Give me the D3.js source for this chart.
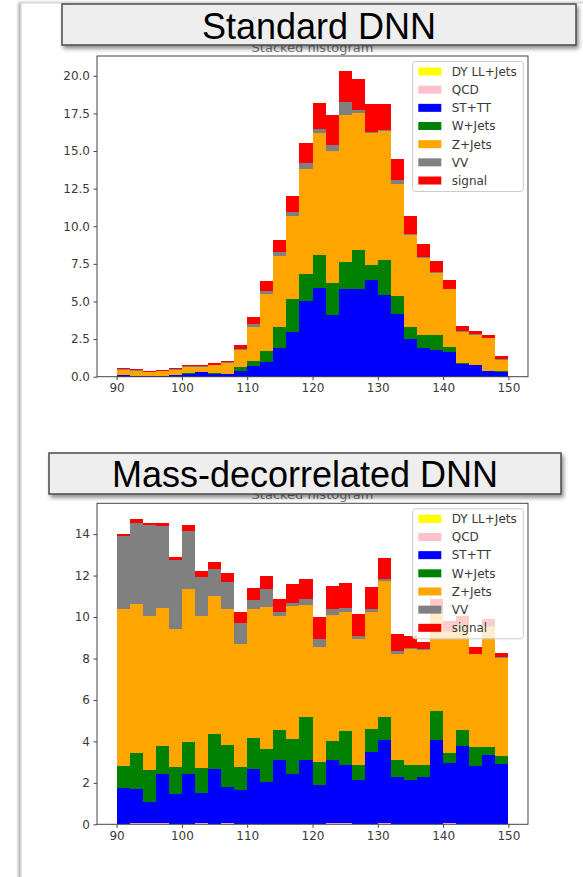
<!DOCTYPE html>
<html><head><meta charset="utf-8">
<script src="https://cdn.jsdelivr.net/npm/d3@7"></script>
<style>body{margin:0;background:#fff}svg{display:block}</style>
</head><body>
<svg id="c" width="583" height="877"></svg>
<script>
// ---------------- data ----------------
const binEdges = [90,92,94,96,98,100,102,104,106,108,110,112,114,116,118,120,122,124,126,128,130,132,134,136,138,140,142,144,146,148,150];
const seriesNames = ["DY LL+Jets","QCD","ST+TT","W+Jets","Z+Jets","VV","signal"];
const seriesColors = ["#ffff00","#ffc0cb","#0000ff","#008000","#ffa500","#808080","#ff0000"];
const xTicks = [90,100,110,120,130,140,150];
const topYTicks = [0,2.5,5,7.5,10,12.5,15,17.5,20];
const bottomYTicks = [0,2,4,6,8,10,12,14];
const panelTitles = ["Standard DNN","Mass-decorrelated DNN"];
const axesTitle = "Stacked histogram";

// Standard DNN
const topDY     = [0,0,0,0,0,0,0,0,0,0,0,0,0,0,0,0,0,0,0,0,0,0,0,0,0,0,0,0,0,0];
const topQCD    = [0,0,0,0,0,0,0,0,0,0,0,0,0,0,0,0,0,0,0,0,0,0,0,0,0,0,0,0,0,0];
const topSTTT   = [0.1,0.05,0.05,0.05,0.1,0.2,0.3,0.2,0.15,0.35,0.7,0.95,1.9,3.0,5.05,5.9,4.1,5.85,5.8,6.45,5.4,4.2,2.5,1.9,1.8,1.65,0.85,0.75,0.35,0.3];
const topWJets  = [0.02,0.02,0.02,0.02,0.02,0.02,0.02,0.02,0.02,0.27,0.36,0.78,1.4,2.15,1.8,2.17,2.1,1.75,2.6,0.95,2.35,1.15,0.8,0.85,0.95,0.35,0.05,0.05,0.05,0.05];
const topZJets  = [0.33,0.33,0.23,0.31,0.33,0.43,0.33,0.53,0.73,1.13,2.24,3.77,4.7,5.55,6.95,8.13,8.8,9.8,9.1,8.8,8.55,7.45,6.15,5.15,4.15,3.8,2.1,2.0,2.15,0.75];
const topVV     = [0.05,0.03,0.03,0.02,0.05,0.05,0.05,0.05,0.05,0.1,0.2,0.2,0.3,0.25,0.4,0.25,0.4,0.85,0.2,0.05,0.1,0.25,0.05,0.05,0.05,0.05,0.05,0.05,0.05,0.05];
const topSignal = [0.1,0.07,0.07,0.05,0.08,0.08,0.08,0.08,0.1,0.25,0.48,0.65,0.8,1.05,1.3,1.75,2.0,2.05,2.1,1.85,1.7,1.45,1.2,0.9,0.75,0.55,0.35,0.2,0.15,0.2];

// Mass-decorrelated DNN
const botDY     = [0,0,0,0,0,0,0,0,0,0,0,0,0,0,0,0,0,0,0,0,0,0,0,0,0,0,0,0,0,0];
const botQCD    = [0,0.08,0.08,0.08,0,0,0.05,0,0.08,0,0,0,0,0,0,0,0.06,0.04,0,0,0.04,0,0,0,0,0.05,0,0,0,0];
const botSTTT   = [1.76,1.62,0.98,2.37,1.44,2.42,1.47,2.66,1.73,1.65,2.66,2.05,3.09,2.42,3.12,1.89,3.06,2.81,2.13,3.49,4.04,2.29,2.13,2.29,4.05,2.91,3.8,2.8,3.36,2.93];
const botWJets  = [1.04,1.74,1.54,1.33,1.33,1.55,1.2,1.71,2.0,1.12,1.5,1.6,1.48,1.68,2.08,1.12,0.9,1.64,0.72,1.09,1.12,0.83,0.72,0.56,1.44,0.48,0.77,0.93,0.37,0.35];
const botZJets  = [7.6,7.21,7.46,6.68,6.65,7.37,7.34,6.65,6.57,5.93,6.22,6.85,5.49,6.44,5.4,5.56,6.08,5.73,6.09,5.64,6.54,5.1,5.61,5.57,4.71,5.86,4.93,4.47,5.77,4.75];
const botVV     = [3.5,3.9,4.39,3.94,3.31,2.8,1.87,1.28,1.33,0.99,0.43,0.84,0.16,0.16,0.26,0.37,0.28,0.24,0.13,0.16,0.08,0.16,0.04,0.04,0.1,0.05,0.1,0.04,0.05,0.06];
const botSignal = [0.1,0.2,0.1,0.15,0.17,0.29,0.29,0.37,0.43,0.53,0.58,0.64,0.64,0.88,0.99,1.04,1.12,1.17,1.1,1.09,1.01,0.8,0.57,0.35,0.55,0.45,0.45,0.3,0.35,0.16];

// ---------------- drawing ----------------
const svg = d3.select("#c");
const defs = svg.append("defs");
const sh = defs.append("filter").attr("id","boxShadow").attr("x","-5%").attr("y","-30%").attr("width","110%").attr("height","170%");
sh.append("feDropShadow").attr("dx",2).attr("dy",3).attr("stdDeviation",2).attr("flood-color","#000").attr("flood-opacity",0.45);
const fs = defs.append("filter").attr("id","frameShadow").attr("x","-5%").attr("y","-5%").attr("width","110%").attr("height","110%");
fs.append("feDropShadow").attr("dx",-2).attr("dy",0).attr("stdDeviation",1.5).attr("flood-color","#000").attr("flood-opacity",0.35);

// slide frame
svg.append("rect").attr("x",21).attr("y",3).attr("width",700).attr("height",1000)
  .attr("fill","#fff").attr("stroke","#cfcfcf").attr("stroke-width",1).attr("filter","url(#frameShadow)");

const FONT = "'DejaVu Sans', sans-serif";

function drawPanel(cfg) {
  const {left, right, top, bottom, series, yTicks, fmt} = cfg;
  const g = svg.append("g");
  const x = d3.scaleLinear().domain([87,153]).range([left,right]);
  const rows = binEdges.slice(0,-1).map((e,i) => {
    const o = {x0: e, x1: binEdges[i+1]};
    seriesNames.forEach((n,k) => o[n] = series[k][i]);
    return o;
  });
  const stacked = d3.stack().keys(seriesNames)(rows);
  const ymax = d3.max(rows, r => d3.sum(seriesNames, n => r[n])) * 1.05;
  const y = d3.scaleLinear().domain([0, ymax]).range([bottom, top]);

  // matplotlib title, mostly hidden behind the slide box
  g.append("text").attr("x",(left+right)/2).attr("y",top-4).attr("text-anchor","middle")
    .attr("font-family",FONT).attr("font-size",13).attr("fill","#777").text(axesTitle);

  const bars = g.append("g").attr("shape-rendering","crispEdges");
  stacked.forEach((layer,k) => {
    bars.append("g").attr("fill", seriesColors[k])
      .selectAll("rect").data(layer.filter(d => d[1]-d[0] > 0)).join("rect")
      .attr("x", d => x(d.data.x0))
      .attr("width", d => x(d.data.x1) - x(d.data.x0))
      .attr("y", d => y(d[1]))
      .attr("height", d => y(d[0]) - y(d[1]));
  });

  // axes
  const ax = g.append("g").attr("transform",`translate(0,${bottom})`)
    .call(d3.axisBottom(x).tickValues(xTicks).tickSize(3.5).tickPadding(3.5).tickSizeOuter(0));
  const ay = g.append("g").attr("transform",`translate(${left},0)`)
    .call(d3.axisLeft(y).tickValues(yTicks).tickFormat(fmt).tickSize(3.5).tickPadding(3.5).tickSizeOuter(0));
  [ax, ay].forEach(a => {
    a.select(".domain").remove();
    a.selectAll("line").attr("stroke","#444");
    a.selectAll("text").attr("font-family",FONT).attr("font-size",12).attr("fill","#3a3a3a");
  });
  g.append("rect").attr("x",left).attr("y",top).attr("width",right-left).attr("height",bottom-top)
    .attr("fill","none").attr("stroke","#444").attr("stroke-width",1);

  // legend
  const lx = right - 115.3, ly = top + 5.5, lw = 110.6, lh = 130;
  const lg = g.append("g");
  lg.append("rect").attr("x",lx).attr("y",ly).attr("width",lw).attr("height",lh).attr("rx",2.5)
    .attr("fill","#fff").attr("fill-opacity",0.8).attr("stroke","#cccccc").attr("stroke-width",1);
  seriesNames.forEach((n,k) => {
    const cy = ly + 10 + k*18.17;
    lg.append("rect").attr("x",lx+5.6).attr("y",cy-4).attr("width",23).attr("height",8).attr("fill",seriesColors[k]);
    lg.append("text").attr("x",lx+39).attr("y",cy).attr("dy","0.36em")
      .attr("font-family",FONT).attr("font-size",12).attr("fill","#3a3a3a").text(n);
  });
}

drawPanel({left:97, right:528, top:56, bottom:376.7,
  series:[topDY,topQCD,topSTTT,topWJets,topZJets,topVV,topSignal], yTicks:topYTicks, fmt:d3.format(".1f")});
drawPanel({left:97, right:528, top:503.3, bottom:824.3,
  series:[botDY,botQCD,botSTTT,botWJets,botZJets,botVV,botSignal], yTicks:bottomYTicks, fmt:d3.format("d")});

// slide title boxes
function titleBox(x0, x1, y0, y1, baseline, label) {
  svg.append("rect").attr("x",x0).attr("y",y0).attr("width",x1-x0).attr("height",y1-y0)
    .attr("fill","#eeeeee").attr("stroke","#4a4a4a").attr("stroke-width",1.5).attr("filter","url(#boxShadow)");
  svg.append("text").attr("x",(x0+x1)/2).attr("y",baseline).attr("text-anchor","middle")
    .attr("font-family","'Liberation Sans', Arial, sans-serif").attr("font-size",36).attr("fill","#000").text(label);
}
titleBox(62, 576, 4, 45, 39.3, panelTitles[0]);
titleBox(49, 561, 453, 494, 486.7, panelTitles[1]);
</script>
</body></html>
